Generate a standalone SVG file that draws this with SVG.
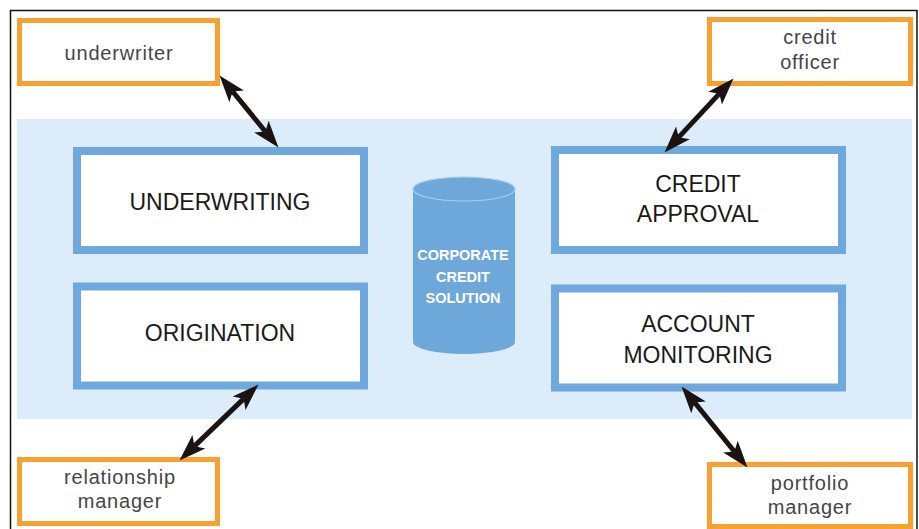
<svg xmlns="http://www.w3.org/2000/svg" width="919" height="529" viewBox="0 0 919 529">
  <style>
    .frame { fill: none; stroke: #111; stroke-width: 1.5; }
    .band { fill: #dcecfb; }
    .module rect { fill: #ffffff; stroke: #6fa8dc; stroke-width: 8; }
    .module text { font-family: "Liberation Sans", Arial, sans-serif; font-size: 23px; fill: #1a1a1a; text-anchor: middle; }
    .role rect { fill: #ffffff; stroke: #f8a030; stroke-width: 5; }
    .role text { font-family: "Liberation Sans", Arial, sans-serif; font-size: 20px; letter-spacing: 0.8px; fill: #454545; text-anchor: middle; }
    .db text { font-family: "Liberation Sans", Arial, sans-serif; font-weight: bold; font-size: 14.5px; fill: #ffffff; text-anchor: middle; }
    .link { stroke: #1b1212; stroke-width: 5; marker-start: url(#head); marker-end: url(#head); }
  </style>
  <defs>
    <marker id="head" markerUnits="userSpaceOnUse" markerWidth="28" markerHeight="22" viewBox="0 -10 27 20" refX="6" refY="0" orient="auto-start-reverse">
      <path d="M0,-9 L26,0 L0,9 L6,0 z" fill="#1b1212"/>
    </marker>
  </defs>

  <rect x="0" y="0" width="919" height="529" fill="#ffffff"/>
  <!-- outer frame (open at the bottom) -->
  <path class="frame" d="M10.5,529 V10.5 H917 V529"/>
  <!-- system band -->
  <rect class="band" x="17" y="119" width="895" height="300"/>

  <g id="underwriting" class="module">
    <rect x="77" y="151" width="287" height="99"/>
    <text x="220" y="210">UNDERWRITING</text>
  </g>
  <g id="origination" class="module">
    <rect x="77" y="286.5" width="287" height="99"/>
    <text x="220" y="341">ORIGINATION</text>
  </g>
  <g id="credit-approval" class="module">
    <rect x="555" y="150" width="287" height="100"/>
    <text x="698" y="192">CREDIT</text>
    <text x="698" y="222">APPROVAL</text>
  </g>
  <g id="account-monitoring" class="module">
    <rect x="555" y="288.5" width="287" height="99"/>
    <text x="698" y="332">ACCOUNT</text>
    <text x="698" y="363">MONITORING</text>
  </g>

  <g id="corporate-credit-solution" class="db">
    <path d="M413,189 V342 A51,12 0 0 0 515,342 V189 Z" fill="#6ea7da"/>
    <ellipse cx="464" cy="189" rx="51" ry="12" fill="#6ea7da" stroke="#a8cdef" stroke-width="1.2"/>
    <text x="463" y="260">CORPORATE</text>
    <text x="463" y="281.5">CREDIT</text>
    <text x="463" y="302.5">SOLUTION</text>
  </g>

  <g id="underwriter" class="role">
    <rect x="19.5" y="20.5" width="198" height="63"/>
    <text x="119" y="60">underwriter</text>
  </g>
  <g id="credit-officer" class="role">
    <rect x="709.5" y="19.5" width="201" height="64"/>
    <text x="810" y="43.5">credit</text>
    <text x="810" y="68.5">officer</text>
  </g>
  <g id="relationship-manager" class="role">
    <rect x="19.5" y="459.5" width="198" height="64"/>
    <text x="120" y="484">relationship</text>
    <text x="120" y="508">manager</text>
  </g>
  <g id="portfolio-manager" class="role">
    <rect x="709.5" y="464.5" width="201" height="62"/>
    <text x="810" y="489.5">portfolio</text>
    <text x="810" y="513.5">manager</text>
  </g>

  <g id="connectors">
    <line class="link" x1="232.65" y1="91.49" x2="265.35" y2="131.51"/>
    <line class="link" x1="719.37" y1="93.63" x2="678.63" y2="137.37"/>
    <line class="link" x1="243.58" y1="398.86" x2="194.42" y2="446.14"/>
    <line class="link" x1="694.61" y1="402.52" x2="734.39" y2="451.48"/>
  </g>
</svg>
